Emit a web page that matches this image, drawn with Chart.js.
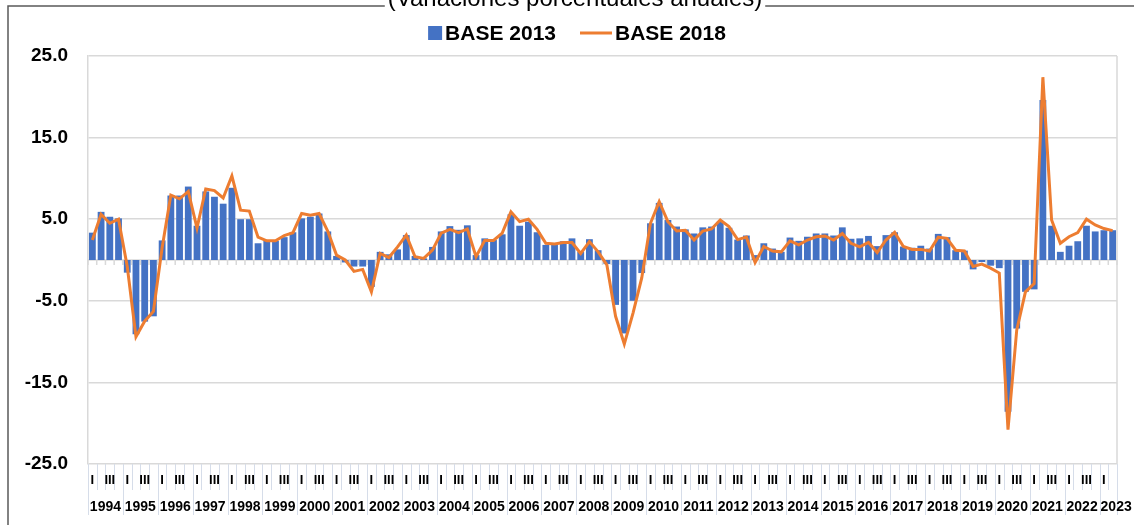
<!DOCTYPE html>
<html lang="es">
<head>
<meta charset="UTF-8">
<title>PIB trimestral - Base 2013 vs Base 2018</title>
<script src="https://cdn.jsdelivr.net/npm/chart.js@4"></script>
<style>
    body { margin: 0; background: #ffffff; }
    #grafica { display: block; }
</style>
</head>
<body>
<canvas id="grafica" width="1134" height="525"></canvas>
<script>
    // Datos: variaciones porcentuales anuales por trimestre
    const anios = [1994, 1995, 1996, 1997, 1998, 1999, 2000, 2001, 2002, 2003,
                   2004, 2005, 2006, 2007, 2008, 2009, 2010, 2011, 2012, 2013,
                   2014, 2015, 2016, 2017, 2018, 2019, 2020, 2021, 2022, 2023];
    const trimestres = ['I', 'II', 'III', 'IV'];
    const trimestresVisibles = ['I', 'III'];   // etiquetas que se alcanzan a ver en el eje
    const trimestresUltimoAnio = 2;

    const base2013 = [
        3.35, 5.9, 5.3, 5.1,        // 1994
        -1.55, -9.1, -7.55, -6.9,   // 1995
        2.4, 7.9, 7.9, 9.0,         // 1996
        4.2, 8.4, 7.75, 6.9,        // 1997
        8.85, 5.0, 5.0, 2.05,       // 1998
        2.35, 2.35, 2.8, 3.4,       // 1999
        5.1, 5.3, 5.7, 3.5,         // 2000
        0.5, -0.3, -0.8, -0.8,      // 2001
        -3.3, 1.0, 0.7, 1.3,        // 2002
        3.05, 0.5, 0.2, 1.6,        // 2003
        3.5, 4.15, 3.7, 4.25,       // 2004
        0.6, 2.65, 2.45, 3.15,      // 2005
        5.6, 4.2, 4.7, 3.4,         // 2006
        1.85, 1.95, 2.3, 2.65,      // 2007
        1.0, 2.55, 1.2, -0.5,       // 2008
        -5.5, -9.0, -5.0, -1.6,     // 2009
        4.5, 7.0, 4.9, 4.1,         // 2010
        3.75, 3.25, 4.0, 4.1,       // 2011
        4.7, 3.95, 2.5, 3.0,        // 2012
        0.6, 2.05, 1.4, 1.0,        // 2013
        2.75, 2.35, 2.85, 3.25,     // 2014
        3.25, 3.0, 4.0, 2.6,        // 2015
        2.65, 2.95, 1.7, 3.05,      // 2016
        3.4, 1.65, 1.5, 1.75,       // 2017
        1.4, 3.2, 2.8, 1.2,         // 2018
        1.15, -1.15, -0.25, -0.7,   // 2019
        -1.0, -18.6, -8.4, -3.9,    // 2020
        -3.6, 19.6, 4.2, 1.0,       // 2021
        1.75, 2.3, 4.2, 3.5,        // 2022
        3.65, 3.65                  // 2023
    ];

    const base2018 = [
        2.45, 5.6, 4.5, 5.0,
        -0.8, -9.4, -7.5, -6.3,
        1.5, 7.95, 7.5, 8.4,
        3.9, 8.7, 8.5, 7.6,
        10.3, 6.1, 6.0, 2.8,
        2.35, 2.35, 3.0, 3.35,
        5.7, 5.5, 5.7, 3.5,
        0.6, 0.0, -1.4, -1.15,
        -3.9, 0.8, 0.3, 1.6,
        3.05, 0.4, 0.2, 1.2,
        3.3, 3.75, 3.35, 3.8,
        0.4, 2.4, 2.4, 3.3,
        5.9, 4.7, 5.0, 3.75,
        2.05, 1.95, 2.15, 2.15,
        0.8, 2.25, 1.0, -0.6,
        -6.9, -10.3, -6.5, -2.2,
        4.5, 7.15, 4.7, 3.55,
        3.65, 2.45, 3.55, 3.8,
        4.9, 4.1, 2.5, 2.8,
        -0.3, 1.65, 1.1, 1.0,
        2.35, 1.85, 2.45, 2.85,
        2.95, 2.45, 3.25, 2.05,
        1.6, 2.15, 0.9, 2.45,
        3.4, 1.65, 1.3, 1.3,
        1.1, 2.8, 2.65, 1.2,
        1.1, -0.8, -0.5, -1.0,
        -1.6, -20.8, -8.6, -3.9,
        -2.9, 22.4, 4.9, 2.05,
        2.85, 3.35, 5.0, 4.3,
        3.85, 3.6
    ];

    const ejeY = { min: -25, max: 25, paso: 10 };
    const subtitulo = '(Variaciones porcentuales anuales)';

    // Etiquetas de categoria: "1994 I", "1994 II", ...
    const etiquetas = [];
    anios.forEach((anio, a) => {
        const n = a === anios.length - 1 ? trimestresUltimoAnio : trimestres.length;
        for (let q = 0; q < n; q++) etiquetas.push(anio + ' ' + trimestres[q]);
    });

    const fuente = "'Liberation Sans', Arial, sans-serif";
    const azul = '#4472C4';
    const naranja = '#ED7D31';

    // Eje de categorias en dos niveles, leyenda, recuadro y subtitulo
    const decoracion = {
        id: 'decoracion',
        beforeDatasetsDraw(chart) {
            const { ctx, chartArea, scales } = chart;
            const y0 = scales.y.getPixelForValue(0);
            const w = scales.x.getPixelForValue(1) - scales.x.getPixelForValue(0);
            ctx.save();
            ctx.strokeStyle = '#d9d9d9';
            ctx.lineWidth = 1.5;
            ctx.beginPath();
            ctx.moveTo(chartArea.left, y0);
            ctx.lineTo(chartArea.right, y0);
            for (let i = 0; i <= etiquetas.length; i++) {
                const x = scales.x.getPixelForValue(i) - w / 2;
                ctx.moveTo(x, y0);
                ctx.lineTo(x, y0 + 5);
            }
            ctx.stroke();
            ctx.restore();
        },
        afterDraw(chart) {
            const { ctx, chartArea, scales } = chart;
            const x = scales.x;
            const w = x.getPixelForValue(1) - x.getPixelForValue(0);
            const abajo = chartArea.bottom;
            ctx.save();

            // borde derecho del area de trazado
            ctx.strokeStyle = '#d9d9d9';
            ctx.lineWidth = 1.5;
            ctx.beginPath();
            ctx.moveTo(chartArea.right, chartArea.top);
            ctx.lineTo(chartArea.right, abajo);
            ctx.stroke();

            // separadores del eje x
            ctx.strokeStyle = '#d6dde9';
            ctx.lineWidth = 1;
            ctx.beginPath();
            let idx = 0;
            anios.forEach((anio, a) => {
                const n = a === anios.length - 1 ? trimestresUltimoAnio : trimestres.length;
                for (let q = 0; q < n; q++) {
                    const xi = Math.round(x.getPixelForValue(idx + q) - w / 2) + 0.5;
                    ctx.moveTo(xi, abajo);
                    ctx.lineTo(xi, q === 0 ? abajo + 51 : abajo + 26);
                }
                idx += n;
            });
            const xf = Math.round(x.getPixelForValue(idx - 1) + w / 2) + 0.5;
            ctx.moveTo(xf, abajo);
            ctx.lineTo(xf, abajo + 51);
            ctx.stroke();

            // etiquetas de trimestre y de anio
            ctx.fillStyle = '#000';
            ctx.textAlign = 'center';
            ctx.textBaseline = 'middle';
            idx = 0;
            anios.forEach((anio, a) => {
                const n = a === anios.length - 1 ? trimestresUltimoAnio : trimestres.length;
                ctx.font = 'bold 13px ' + fuente;
                for (let q = 0; q < n; q++) {
                    if (trimestresVisibles.includes(trimestres[q])) {
                        ctx.fillText(trimestres[q], x.getPixelForValue(idx + q), abajo + 16);
                    }
                }
                ctx.font = 'bold 14px ' + fuente;
                const inicio = x.getPixelForValue(idx) - w / 2;
                if (n === trimestres.length) {
                    ctx.fillText(String(anio), inicio + n * w / 2, abajo + 43);
                } else {
                    ctx.textAlign = 'left';
                    ctx.fillText(String(anio), inicio + 1, abajo + 43);
                    ctx.textAlign = 'center';
                }
                idx += n;
            });

            // leyenda
            ctx.font = 'bold 21px ' + fuente;
            ctx.textAlign = 'left';
            const ds = chart.data.datasets;
            const anchoSimbolo = [14, 32];
            let total = 0;
            ds.forEach((d, i) => {
                total += anchoSimbolo[i] + 3 + ctx.measureText(d.label).width;
                if (i < ds.length - 1) total += 24;
            });
            let lx = 577 - total / 2;
            const ly = 33;
            ds.forEach((d, i) => {
                if (d.type === 'line') {
                    ctx.strokeStyle = d.borderColor;
                    ctx.lineWidth = 3;
                    ctx.beginPath();
                    ctx.moveTo(lx, ly);
                    ctx.lineTo(lx + anchoSimbolo[i], ly);
                    ctx.stroke();
                } else {
                    ctx.fillStyle = d.backgroundColor;
                    ctx.fillRect(lx, ly - 7, anchoSimbolo[i], 14);
                }
                lx += anchoSimbolo[i] + 3;
                ctx.fillStyle = '#000';
                ctx.fillText(d.label, lx, ly + 1);
                lx += ctx.measureText(d.label).width + 24;
            });

            // recuadro exterior y subtitulo recortado arriba
            ctx.strokeStyle = '#595959';
            ctx.lineWidth = 1.5;
            ctx.beginPath();
            ctx.moveTo(8, 525);
            ctx.lineTo(8, 6);
            ctx.lineTo(1134, 6);
            ctx.stroke();
            ctx.font = '24px ' + fuente;
            ctx.textAlign = 'center';
            ctx.textBaseline = 'alphabetic';
            const anchoSub = ctx.measureText(subtitulo).width;
            ctx.fillStyle = '#fff';
            ctx.fillRect(575 - anchoSub / 2 - 3, 0, anchoSub + 6, 11);
            ctx.fillStyle = '#000';
            ctx.fillText(subtitulo, 575, 6);
            ctx.restore();
        }
    };

    new Chart(document.getElementById('grafica'), {
        data: {
            labels: etiquetas,
            datasets: [
                {
                    type: 'bar',
                    label: 'BASE 2013',
                    data: base2013,
                    backgroundColor: azul,
                    borderWidth: 0,
                    barPercentage: 0.78,
                    categoryPercentage: 1.0,
                    order: 1
                },
                {
                    type: 'line',
                    label: 'BASE 2018',
                    data: base2018,
                    borderColor: naranja,
                    backgroundColor: naranja,
                    borderWidth: 3,
                    pointRadius: 0,
                    tension: 0,
                    fill: false,
                    order: 0
                }
            ]
        },
        options: {
            responsive: false,
            animation: false,
            devicePixelRatio: 1,
            layout: { padding: { left: 8, right: 17, top: 56, bottom: 61 } },
            plugins: {
                legend: { display: false },
                tooltip: { enabled: false }
            },
            scales: {
                x: {
                    type: 'category',
                    display: false,
                    offset: true
                },
                y: {
                    min: ejeY.min,
                    max: ejeY.max,
                    afterFit: (scale) => { scale.width = 80; },
                    ticks: {
                        stepSize: ejeY.paso,
                        padding: 20,
                        color: '#000',
                        font: { family: fuente, size: 19, weight: 'bold' },
                        callback: (v) => Number(v).toFixed(1)
                    },
                    grid: { color: '#d9d9d9', lineWidth: 1.5, drawTicks: false },
                    border: { display: true, color: '#d9d9d9', width: 1.5 }
                }
            }
        },
        plugins: [decoracion]
    });
</script>
</body>
</html>
